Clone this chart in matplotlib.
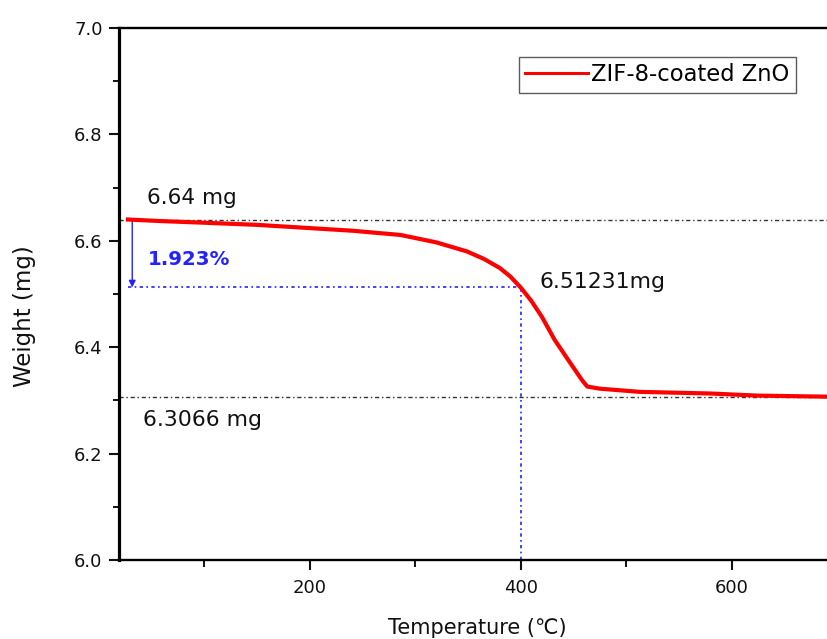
import matplotlib
matplotlib.use("Agg")
import matplotlib.pyplot as plt
from matplotlib.lines import Line2D
from matplotlib.ticker import MultipleLocator, FixedLocator

# ---- data ----
temperature = [28, 60, 100, 150, 191, 240, 286, 320, 349, 365, 380, 390, 400,
               410, 420, 432, 448, 458, 463, 475, 513, 579, 624, 690]
weight = [6.640, 6.637, 6.634, 6.630, 6.625, 6.619, 6.611, 6.597, 6.580, 6.566,
          6.549, 6.533, 6.512, 6.487, 6.457, 6.414, 6.367, 6.338, 6.326, 6.322,
          6.316, 6.313, 6.309, 6.307]
series_name = "ZIF-8-coated ZnO"
initial_weight = 6.64
final_weight = 6.3066
mark_temp = 400
mark_weight = 6.51231
loss_label = "1.923%"
x_major = [200, 400, 600]
x_minor = [100, 300, 500, 700]

W, H = 827, 639
fig = plt.figure(figsize=(W / 100, H / 100), dpi=100)
left, right, top, bottom = 118.5, 827, 28, 560
ax = fig.add_axes([left / W, 1 - bottom / H, (right - left) / W, (bottom - top) / H])

ax.set_xlim(19, 690)
ax.set_ylim(6.0, 7.0)

# reference dotted lines
ref_style = dict(color="#333333", lw=1.0, linestyle=(0, (3, 2, 1, 2)))
ax.axhline(initial_weight, **ref_style, zorder=1)
ax.axhline(final_weight, **ref_style, zorder=1)

# blue marker lines
blue = "#2222ff"
bstyle = dict(color=blue, lw=1.2, linestyle=(0, (2, 2, 1, 2)))
ax.plot([temperature[0], mark_temp], [mark_weight, mark_weight], **bstyle, zorder=1)
ax.plot([mark_temp, mark_temp], [6.0, mark_weight], **bstyle, zorder=1)

# arrow
ax.annotate("", xy=(32, mark_weight), xytext=(32, initial_weight),
            arrowprops=dict(arrowstyle="-|>", color=blue, lw=1.0,
                            mutation_scale=10, shrinkA=0, shrinkB=0))

# curve
ax.plot(temperature, weight, color="#ff0000", lw=3.0, zorder=3)

# texts
ax.text(46, 6.6805, "6.64 mg", fontsize=15.5, va="center", ha="left", color="#111111")
ax.text(47, 6.564, loss_label, fontsize=14.2, fontweight="bold", va="center",
        ha="left", color=blue)
ax.text(418, 6.5226, "6.51231mg", fontsize=15.8, va="center", ha="left", color="#111111")
ax.text(42, 6.263, "6.3066 mg", fontsize=15.8, va="center", ha="left", color="#111111")

# ticks
ax.xaxis.set_major_locator(FixedLocator(x_major))
ax.xaxis.set_minor_locator(FixedLocator(x_minor))
ax.yaxis.set_major_locator(MultipleLocator(0.2))
ax.yaxis.set_minor_locator(MultipleLocator(0.1))
ax.yaxis.set_major_formatter(matplotlib.ticker.FormatStrFormatter("%.1f"))
ax.tick_params(axis="both", which="major", direction="out", length=7.5, width=1.5,
               labelsize=13, colors="#111111", pad=4)
ax.tick_params(axis="both", which="minor", direction="out", length=4, width=1.3)
ax.tick_params(axis="x", which="major", pad=6)
ax.tick_params(axis="x", which="minor", length=5)

ax.spines["right"].set_visible(False)
ax.spines["left"].set_linewidth(2.3)
ax.spines["bottom"].set_linewidth(1.7)
ax.spines["top"].set_linewidth(1.7)

# axis labels
fig.text(24 / W, 1 - 316.5 / H, "Weight (mg)", rotation=90, ha="center", va="center",
         fontsize=16.5, color="#111111")
fig.text(477 / W, 1 - 633.5 / H, "Temperature (℃)", ha="center", va="baseline",
         fontsize=15, color="#111111")

# legend
handle = Line2D([], [], color="#ff0000", lw=2.2)
leg = ax.legend([handle], [series_name], loc="upper left",
                bbox_to_anchor=(519 / W, 1 - 57 / H), bbox_transform=fig.transFigure,
                fontsize=16.3, frameon=True, fancybox=False, borderaxespad=0,
                borderpad=0.28, handlelength=2.75, handletextpad=0.15)
leg.get_frame().set_edgecolor("#333333")
leg.get_frame().set_linewidth(1.0)

fig.savefig("out.png", dpi=100)
